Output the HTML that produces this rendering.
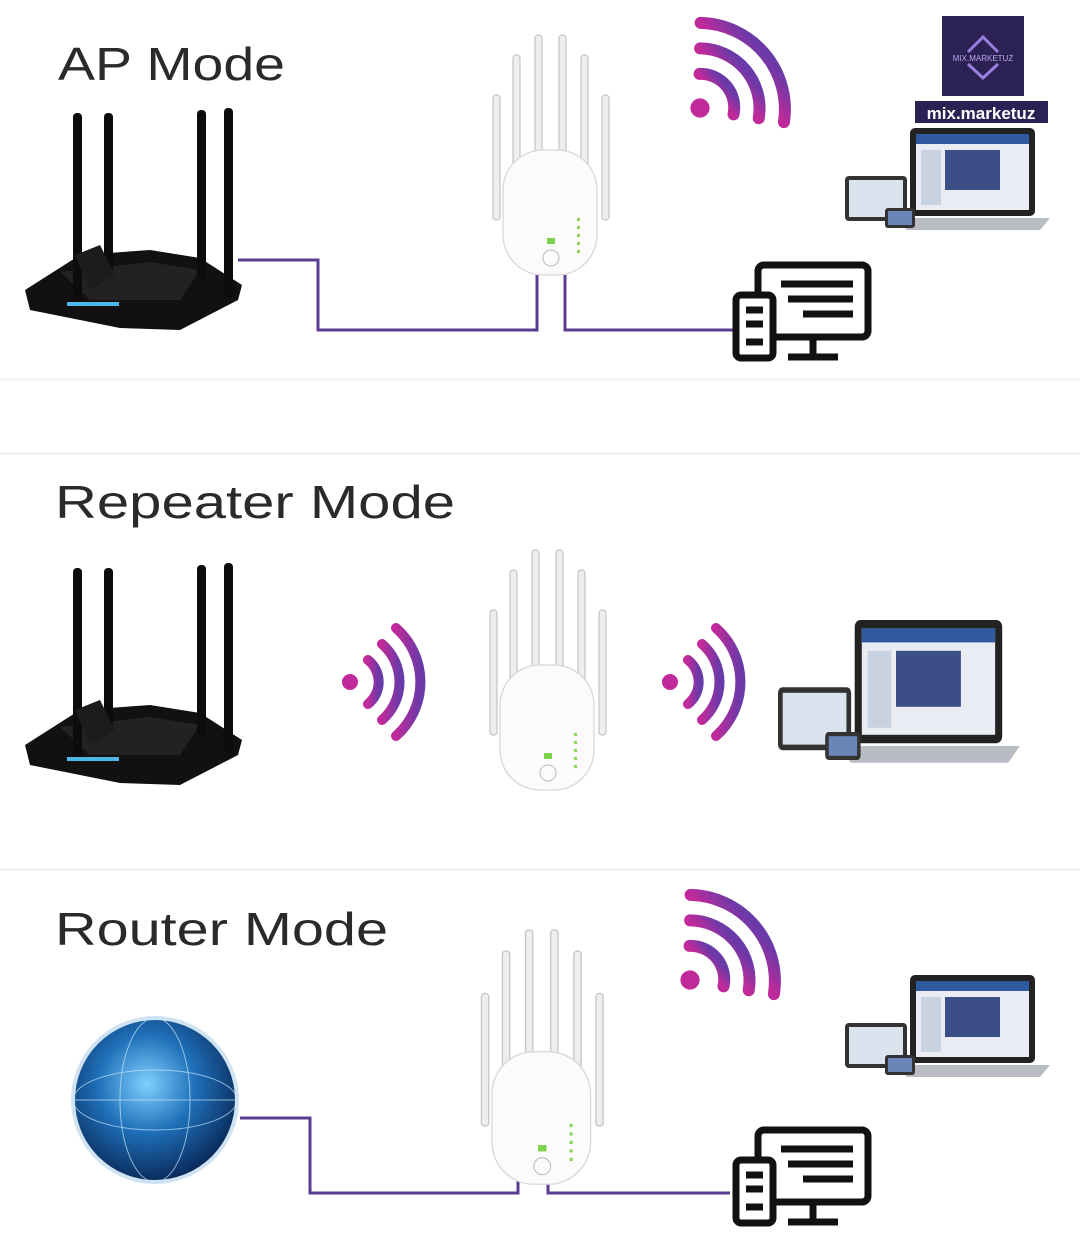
<!DOCTYPE html>
<html><head><meta charset="utf-8"><style>
html,body{margin:0;padding:0;background:#fff;}
svg{display:block;}
text{font-family:"Liberation Sans",sans-serif;}
</style></head><body>
<svg width="1080" height="1234" viewBox="0 0 1080 1234" xmlns="http://www.w3.org/2000/svg">
<defs>
<linearGradient id="wg" x1="0" y1="0" x2="1" y2="0">
<stop offset="0" stop-color="#c02a9a"/><stop offset="1" stop-color="#6a3aa8"/></linearGradient>
<radialGradient id="globe" cx="0.45" cy="0.4" r="0.6">
<stop offset="0" stop-color="#7fd0ff"/><stop offset="0.5" stop-color="#1f6fb8"/><stop offset="1" stop-color="#0a2a5a"/></radialGradient>
<g id="router">
<path d="M25 290 L80 255 L150 250 L200 258 L242 285 L238 300 L180 330 L120 328 L30 310 Z" fill="#111"/>
<path d="M60 272 L150 262 L200 270 L180 300 L90 300 Z" fill="#222"/>
<rect x="73" y="113" width="9" height="190" rx="4" fill="#0c0c0c"/>
<rect x="104" y="113" width="9" height="160" rx="4" fill="#0c0c0c"/>
<rect x="197" y="110" width="9" height="170" rx="4" fill="#0c0c0c"/>
<rect x="224" y="108" width="9" height="190" rx="4" fill="#0c0c0c"/>
<path d="M75 255 L100 245 L115 275 L90 290 Z" fill="#1c1c1c"/>
<rect x="67" y="302" width="52" height="4" fill="#4fb6e8"/>
</g>
<g id="ext">
<g fill="#eeeeee" stroke="#c4c4c4" stroke-width="1.2">
<rect x="-52" y="25" width="7" height="125" rx="3"/>
<rect x="-32" y="-15" width="7" height="130" rx="3"/>
<rect x="-10" y="-35" width="7" height="130" rx="3"/>
<rect x="14" y="-35" width="7" height="130" rx="3"/>
<rect x="36" y="-15" width="7" height="130" rx="3"/>
<rect x="57" y="25" width="7" height="125" rx="3"/>
<rect x="-42" y="80" width="94" height="125" rx="40" fill="#fbfbfb" stroke="#d6d6d6"/>
</g>
<circle cx="6" cy="188" r="8" fill="none" stroke="#bbb"/>
<rect x="2" y="168" width="8" height="6" fill="#7ad34a"/>
<g fill="#8bd35c"><rect x="32" y="148" width="3" height="3"/><rect x="32" y="156" width="3" height="3"/><rect x="32" y="164" width="3" height="3"/><rect x="32" y="172" width="3" height="3"/><rect x="32" y="180" width="3" height="3"/></g>
</g>
<g id="wifi" fill="none" stroke="url(#wg)" stroke-width="10" stroke-linecap="round">
<circle cx="0" cy="0" r="8" fill="#c02a9a" stroke="none"/>
<path d="M18 -22 A28 28 0 0 1 18 22"/>
<path d="M32 -38 A50 50 0 0 1 32 38"/>
<path d="M46 -54 A72 72 0 0 1 46 54"/>
</g>
<g id="laptop">
<rect x="65" y="0" width="125" height="88" rx="5" fill="#222"/>
<rect x="71" y="6" width="113" height="76" fill="#e9edf3"/>
<rect x="71" y="6" width="113" height="10" fill="#2f5aa0"/>
<rect x="100" y="22" width="55" height="40" fill="#3b4f86"/>
<rect x="76" y="22" width="20" height="55" fill="#c9d2e0"/>
<path d="M50 90 L205 90 L195 102 L62 102 Z" fill="#b9bcc2"/>
<rect x="0" y="48" width="62" height="45" rx="4" fill="#333"/>
<rect x="4" y="52" width="54" height="37" fill="#dbe3ee"/>
<rect x="40" y="80" width="30" height="20" rx="3" fill="#333"/>
<rect x="43" y="83" width="24" height="14" fill="#6a86b8"/>
</g>
<g id="desk" fill="none" stroke="#111" stroke-width="7" stroke-linejoin="round">
<rect x="25" y="3" width="110" height="72" rx="6"/>
<line x1="48" y1="22" x2="120" y2="22"/><line x1="55" y1="37" x2="120" y2="37"/><line x1="70" y1="52" x2="120" y2="52"/>
<line x1="80" y1="75" x2="80" y2="93"/><line x1="55" y1="95" x2="105" y2="95"/>
<rect x="3" y="33" width="37" height="63" rx="5" fill="#fff"/>
<line x1="13" y1="48" x2="30" y2="48"/><line x1="13" y1="62" x2="30" y2="62"/><line x1="13" y1="80" x2="30" y2="80"/>
</g>
</defs>

<rect x="0" y="378" width="1080" height="3" fill="#f6f6f6"/>
<rect x="0" y="452" width="1080" height="3" fill="#f4f4f4"/>
<rect x="0" y="868" width="1080" height="3" fill="#f4f4f4"/>

<text x="58" y="80" font-size="46" fill="#2a2a2a" textLength="227" lengthAdjust="spacingAndGlyphs">AP  Mode</text>
<text x="55" y="518" font-size="46" fill="#2a2a2a" textLength="400" lengthAdjust="spacingAndGlyphs">Repeater Mode</text>
<text x="55" y="945" font-size="46" fill="#2a2a2a" textLength="333" lengthAdjust="spacingAndGlyphs">Router Mode</text>

<use href="#router"/>
<g fill="none" stroke="#5a3d92" stroke-width="3">
<polyline points="238,260 318,260 318,330 537,330 537,275"/>
<polyline points="565,275 565,330 735,330"/>
</g>
<use href="#ext" x="545" y="70"/>
<use href="#wifi" transform="translate(700,108) rotate(-40) scale(1.2)"/>
<use href="#laptop" x="845" y="128"/>
<use href="#desk" x="733" y="262"/>

<rect x="942" y="16" width="82" height="80" fill="#2b2152"/>
<path d="M968 52 L983 37 L998 52" fill="none" stroke="#9a7fe0" stroke-width="3"/>
<path d="M968 64 L983 78 L998 64" fill="none" stroke="#9a7fe0" stroke-width="3"/>
<text x="983" y="61" font-size="8" fill="#b9a8f0" text-anchor="middle" font-family="Liberation Serif">MIX.MARKETUZ</text>
<rect x="915" y="101" width="133" height="22" fill="#2b2152"/>
<text x="981" y="119" font-size="17" font-weight="bold" fill="#fff" text-anchor="middle">mix.marketuz</text>

<use href="#router" y="455"/>
<use href="#wifi" transform="translate(350,682)"/>
<use href="#wifi" transform="translate(670,682)"/>
<use href="#ext" x="542" y="585"/>
<use href="#laptop" transform="translate(778,620) scale(1.18 1.4)"/>

<circle cx="155" cy="1100" r="82" fill="url(#globe)" stroke="#cfe3f2" stroke-width="4"/>
<g fill="none" stroke="#bfe6ff" stroke-width="1" opacity="0.7">
<ellipse cx="155" cy="1100" rx="82" ry="30"/><ellipse cx="155" cy="1100" rx="35" ry="82"/>
<line x1="73" y1="1100" x2="237" y2="1100"/></g>
<g fill="none" stroke="#5a3d92" stroke-width="3">
<polyline points="240,1118 310,1118 310,1193 518,1193 518,1165"/>
<polyline points="548,1165 548,1193 730,1193"/>
</g>
<use href="#ext" transform="translate(536,967) scale(1.05 1.06)"/>
<use href="#wifi" transform="translate(690,980) rotate(-40) scale(1.2)"/>
<use href="#laptop" x="845" y="975"/>
<use href="#desk" x="733" y="1127"/>
</svg>
</body></html>
